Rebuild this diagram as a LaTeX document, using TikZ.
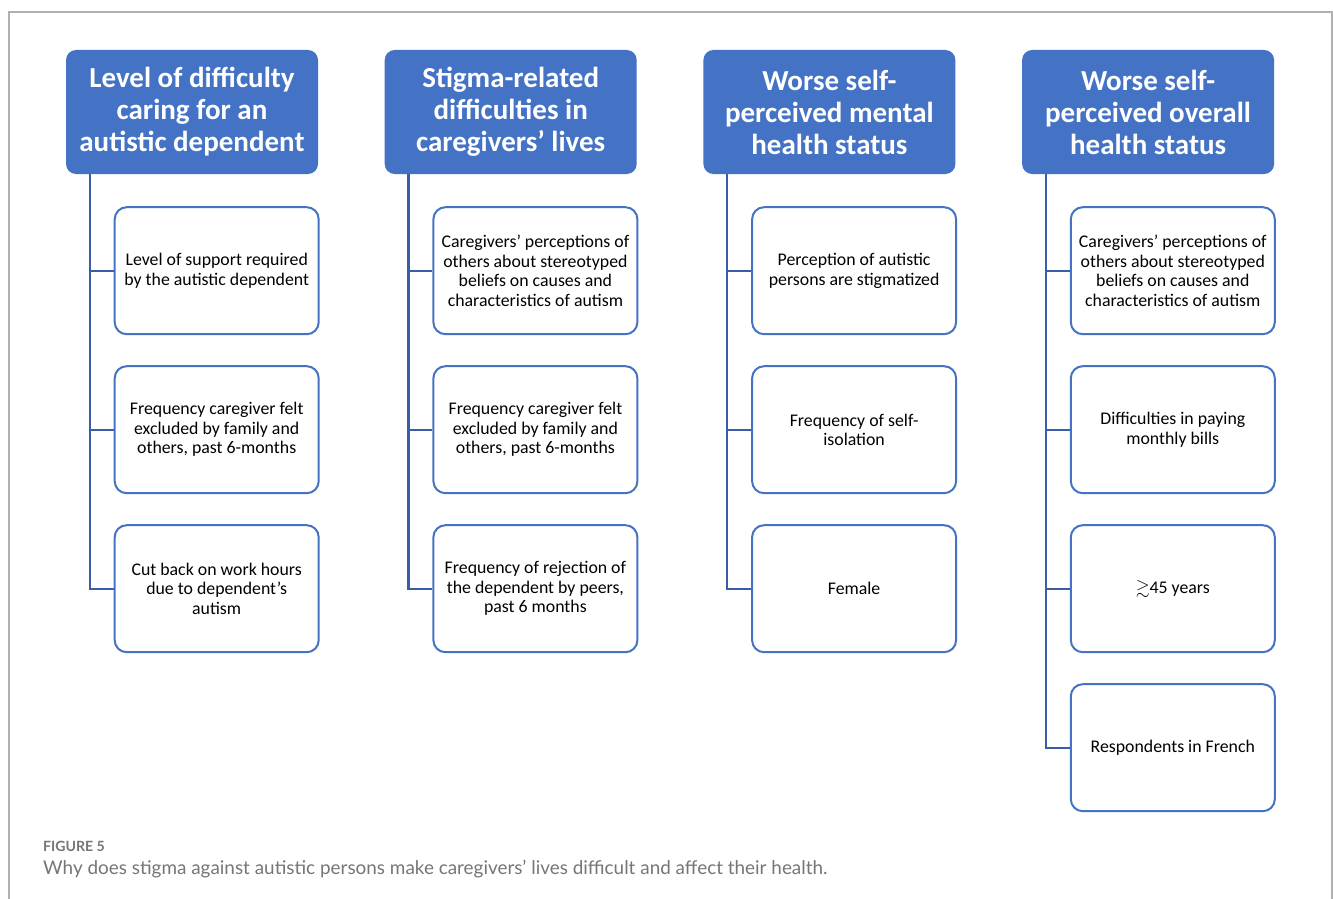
\documentclass[tikz,border=0pt]{standalone}
\usepackage{fontspec}
\usepackage{amssymb}
\setmainfont{Carlito}
\newfontfamily\capfont{Lato}
\usetikzlibrary{positioning}

\definecolor{hdrblue}{HTML}{4472C4}
\definecolor{lnkblue}{HTML}{3A5DA8}
\definecolor{capgray}{HTML}{767676}
\definecolor{framegray}{HTML}{B0B0B0}

\tikzset{
  header/.style={rectangle, rounded corners=10pt, fill=hdrblue, text=white,
    minimum width=252pt, minimum height=124pt, inner sep=0pt, align=center,
    font=\fontsize{29}{32}\selectfont\bfseries},
  item/.style={rectangle, rounded corners=12pt, draw=hdrblue, line width=2pt,
    minimum width=204pt, minimum height=127pt, inner sep=0pt, align=center,
    font=\fontsize{17.8}{19.5}\selectfont},
  link/.style={draw=lnkblue, line width=2.2pt},
}

\begin{document}
\begin{tikzpicture}[x=1pt, y=1pt]
\useasboundingbox[fill=white] (0,0) rectangle (1333,-899);
\draw[framegray, line width=1.2pt] (9,-899) -- (9,-12) -- (1332,-12) -- (1332,-899);

% headers
\node[header](h1) at (192,-112){Level of difficulty\\caring for an\\autistic dependent};
\node[header](h2)[right = 66.3pt of h1]{Stigma-related\\difficulties in\\caregivers' lives};
\node[header](h3)[right = 66.3pt of h2]{Worse self-\\perceived mental\\health status};
\node[header](h4)[right = 66.3pt of h3]{Worse self-\\perceived overall\\health status};

% first column
\node[item](a1)[below left = 32pt and -1.5pt of h1.south east]{Level of support required\\by the autistic dependent};
\node[item](a2)[below = 30pt of a1]{Frequency caregiver felt\\excluded by family and\\others, past 6-months};
\node[item](a3)[below = 30pt of a2]{Cut back on work hours\\due to dependent's\\autism};

% second column
\node[item](b1)[below left = 32pt and -1.5pt of h2.south east]{Caregivers' perceptions of\\others about stereotyped\\beliefs on causes and\\characteristics of autism};
\node[item](b2)[below = 30pt of b1]{Frequency caregiver felt\\excluded by family and\\others, past 6-months};
\node[item](b3)[below = 30pt of b2]{Frequency of rejection of\\the dependent by peers,\\past 6 months};

% third column
\node[item](c1)[below left = 32pt and -1.5pt of h3.south east]{Perception of autistic\\persons are stigmatized};
\node[item](c2)[below = 30pt of c1]{Frequency of self-\\isolation};
\node[item](c3)[below = 30pt of c2]{Female};

% fourth column
\node[item](d1)[below left = 32pt and -1.5pt of h4.south east]{Caregivers' perceptions of\\others about stereotyped\\beliefs on causes and\\characteristics of autism};
\node[item](d2)[below = 30pt of d1]{Difficulties in paying\\monthly bills};
\node[item](d3)[below = 30pt of d2]{$\gtrsim$45 years};
\node[item](d4)[below = 30pt of d3]{Respondents in French};

% trunks
\coordinate (ta) at ([xshift=24pt]h1.south west);
\coordinate (tb) at ([xshift=24pt]h2.south west);
\coordinate (tc) at ([xshift=24pt]h3.south west);
\coordinate (td) at ([xshift=24pt]h4.south west);
\path[link]
  (ta) |- (a3.west) (ta) |- (a2.west) (ta) |- (a1.west)
  (tb) |- (b3.west) (tb) |- (b2.west) (tb) |- (b1.west)
  (tc) |- (c3.west) (tc) |- (c2.west) (tc) |- (c1.west)
  (td) |- (d4.west) (td) |- (d3.west) (td) |- (d2.west) (td) |- (d1.west);

% caption
\node[anchor=west, inner sep=0pt, text=capgray, font=\capfont\fontsize{14.1}{16}\selectfont\bfseries](fig) at (43,-846){FIGURE 5};
\node[anchor=west, inner sep=0pt, text=capgray, font=\capfont\fontsize{18.9}{22}\selectfont](cap) at (43,-869){Why does stigma against autistic persons make caregivers’ lives difficult and affect their health.};
\end{tikzpicture}
\end{document}
